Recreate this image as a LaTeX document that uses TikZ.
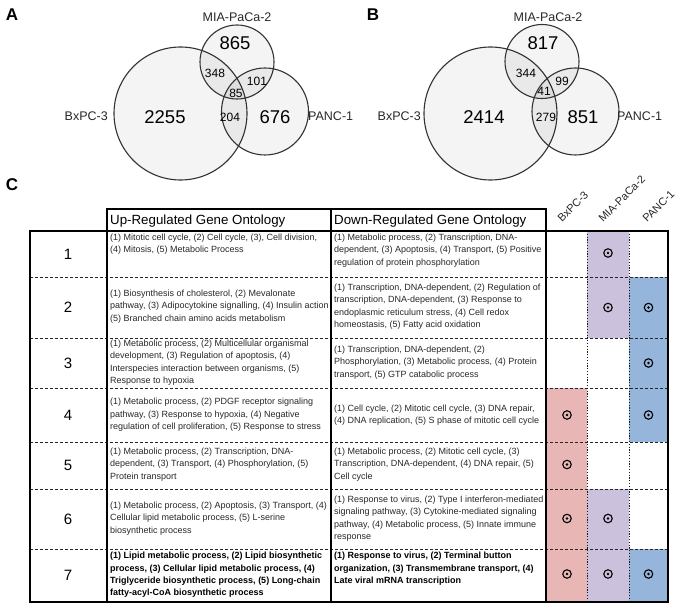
\documentclass[tikz,border=0pt]{standalone}
\usepackage{fontspec}
\setmainfont{Liberation Sans}
\definecolor{redc}{RGB}{233,182,182}
\definecolor{purc}{RGB}{204,193,221}
\definecolor{bluec}{RGB}{149,181,219}
\definecolor{inkc}{RGB}{40,40,40}
\tikzset{
  venncirc/.style={circle, draw=black!80, line width=1.1pt, fill=black, fill opacity=0.045, inner sep=0pt, outer sep=0pt},
  vlabel/.style={font=\fontsize{12.5}{12.5}\selectfont, inner sep=0pt, text=inkc},
  bignum/.style={font=\fontsize{18.5}{18.5}\selectfont, inner sep=0pt},
  smallnum/.style={font=\fontsize{12}{12}\selectfont, inner sep=0pt},
  panel/.style={font=\fontsize{17}{17}\selectfont\bfseries, inner sep=0pt},
  cell/.style={anchor=west, align=left, inner sep=0pt, font=\fontsize{9}{12.4}\selectfont, text=inkc},
  bcell/.style={cell, font=\fontsize{9}{12.4}\selectfont\bfseries, text=black},
  rownum/.style={font=\fontsize{15}{15}\selectfont, inner sep=0pt},
  hdr/.style={font=\fontsize{13.3}{13.3}\selectfont, anchor=west, inner sep=0pt},
  rothdr/.style={font=\fontsize{11}{11}\selectfont, anchor=base west, rotate=45, inner sep=0pt, text=inkc},
  thickline/.style={line width=2.8pt},
  dashrow/.style={line width=0.9pt, dash pattern=on 3pt off 2pt, black!85},
  dotcol/.style={line width=1pt, dash pattern=on 1.2pt off 1.6pt, black!90},
  dotsym/.style={circle, draw=black, line width=1.1pt, minimum size=8.5pt, inner sep=0pt,
    path picture={\fill (path picture bounding box.center) circle (1.3pt);}}
}
\begin{document}
\begin{tikzpicture}[x=1pt,y=-1pt]
\useasboundingbox (0,0) rectangle (686,609);
\fill[white] (0,0) rectangle (686,609);

% ---------- Panel A ----------
\node[panel] (pa) at (12,15) {A};
\node[venncirc, minimum size=133pt] (abx) at (180.5,113.5) {};
\node[venncirc, minimum size=74pt] (amia) at (237,62) {};
\node[venncirc, minimum size=87pt] (apanc) at (265,111.5) {};
\node[vlabel] (almia) at (237,17) {MIA-PaCa-2};
\node[vlabel, anchor=east] (albx) at (108,116) {BxPC-3};
\node[vlabel, anchor=west] (alpanc) at (308,116) {PANC-1};
\node[bignum] (a865) at (235,43) {865};
\node[bignum] (a2255) at (165,117) {2255};
\node[bignum] (a676) at (275,117) {676};
\node[smallnum] (a348) at (215,73) {348};
\node[smallnum] (a101) at (257,81) {101};
\node[smallnum] (a85) at (236,93) {85};
\node[smallnum] (a204) at (230,117) {204};

% ---------- Panel B ----------
\node[panel] (pb) at (373,15) {B};
\node[venncirc, minimum size=133pt] (bbx) at (490.5,113.5) {};
\node[venncirc, minimum size=74pt] (bmia) at (542,61.5) {};
\node[venncirc, minimum size=87pt] (bpanc) at (575.5,111.5) {};
\node[vlabel] (blmia) at (548,17) {MIA-PaCa-2};
\node[vlabel, anchor=east] (blbx) at (421,116) {BxPC-3};
\node[vlabel, anchor=west] (blpanc) at (617,116) {PANC-1};
\node[bignum] (b817) at (543,43) {817};
\node[bignum] (b2414) at (484,117) {2414};
\node[bignum] (b851) at (583,117) {851};
\node[smallnum] (b344) at (526,73) {344};
\node[smallnum] (b99) at (562,81) {99};
\node[smallnum] (b41) at (544,91) {41};
\node[smallnum] (b279) at (546,117) {279};

% ---------- Panel C ----------
\node[panel] (pc) at (12,185) {C};

% coloured cells
\fill[redc] (547,388) rectangle (587,602);
\fill[purc] (587,231) rectangle (629,338);
\fill[purc] (587,489) rectangle (629,602);
\fill[bluec] (629,277) rectangle (668,442);
\fill[bluec] (629,549) rectangle (668,602);

% row separators
\foreach \yy in {277,338,388,442,489,549}
  \draw[dashrow] (30,\yy) -- (668,\yy);
% dotted column separators
\draw[dotcol] (587,231) -- (587,602);
\draw[dotcol] (629,231) -- (629,602);

% thick frame
\draw[thickline] (107,209) rectangle (331,231);
\draw[thickline] (331,209) rectangle (546,231);
\draw[thickline] (30,231) rectangle (668,602);
\draw[thickline] (107,231) -- (107,602);
\draw[thickline] (331,231) -- (331,602);
\draw[thickline] (546,231) -- (546,602);

% headers
\node[hdr] (hup) at (110,221) {Up-Regulated Gene Ontology};
\node[hdr] (hdn) at (334,221) {Down-Regulated Gene Ontology};
\node[rothdr] (hbx) at (562,223) {BxPC-3};
\node[rothdr] (hmia) at (603,223) {MIA-PaCa-2};
\node[rothdr] (hpanc) at (647,223) {PANC-1};

% row numbers
\node[rownum] (n1) at (68,254) {1};
\node[rownum] (n2) at (68,307.5) {2};
\node[rownum] (n3) at (68,363) {3};
\node[rownum] (n4) at (68,415) {4};
\node[rownum] (n5) at (68,465.5) {5};
\node[rownum] (n6) at (68,519) {6};
\node[rownum] (n7) at (68,575.5) {7};

% up-regulated
\node[cell, anchor=north west] (u1) at (110,233.5) {(1) Mitotic cell cycle, (2) Cell cycle, (3), Cell division,\\(4) Mitosis, (5) Metabolic Process};
\node[cell] (u2) at (110,306.5) {(1) Biosynthesis of cholesterol, (2) Mevalonate\\pathway, (3) Adipocytokine signalling, (4) Insulin action\\(5) Branched chain amino acids metabolism};
\node[cell] (u3) at (110,362.5) {(1) Metabolic process, (2) Multicellular organismal\\development, (3) Regulation of apoptosis, (4)\\Interspecies interaction between organisms, (5)\\Response to hypoxia};
\node[cell] (u4) at (110,415) {(1) Metabolic process, (2) PDGF receptor signaling\\pathway, (3) Response to hypoxia, (4) Negative\\regulation of cell proliferation, (5) Response to stress};
\node[cell] (u5) at (110,464.5) {(1) Metabolic process, (2) Transcription, DNA-\\dependent, (3) Transport, (4) Phosphorylation, (5)\\Protein transport};
\node[cell] (u6) at (110,518.5) {(1) Metabolic process, (2) Apoptosis, (3) Transport, (4)\\Cellular lipid metabolic process, (5) L-serine\\biosynthetic process};
\node[bcell] (u7) at (110,575) {(1) Lipid metabolic process, (2) Lipid biosynthetic\\process, (3) Cellular lipid metabolic process, (4)\\Triglyceride biosynthetic process, (5) Long-chain\\fatty-acyl-CoA biosynthetic process};

% down-regulated
\node[cell, anchor=north west] (d1) at (334,233.5) {(1) Metabolic process, (2) Transcription, DNA-\\dependent, (3) Apoptosis, (4) Transport, (5) Positive\\regulation of protein phosphorylation};
\node[cell] (d2) at (334,306.5) {(1) Transcription, DNA-dependent, (2) Regulation of\\transcription, DNA-dependent, (3) Response to\\endoplasmic reticulum stress, (4) Cell redox\\homeostasis, (5) Fatty acid oxidation};
\node[cell] (d3) at (334,362.5) {(1) Transcription, DNA-dependent, (2)\\Phosphorylation, (3) Metabolic process, (4) Protein\\transport, (5) GTP catabolic process};
\node[cell] (d4) at (334,415) {(1) Cell cycle, (2) Mitotic cell cycle, (3) DNA repair,\\(4) DNA replication, (5) S phase of mitotic cell cycle};
\node[cell] (d5) at (334,464.5) {(1) Metabolic process, (2) Mitotic cell cycle, (3)\\Transcription, DNA-dependent, (4) DNA repair, (5)\\Cell cycle};
\node[cell] (d6) at (334,518.5) {(1) Response to virus, (2) Type I interferon-mediated\\signaling pathway, (3) Cytokine-mediated signaling\\pathway, (4) Metabolic process, (5) Innate immune\\response};
\node[bcell] (d7) at (334,569) {(1) Response to virus, (2) Terminal button\\organization, (3) Transmembrane transport, (4)\\Late viral mRNA transcription};

% dot symbols
\node[dotsym] (m1b) at (608,253) {};
\node[dotsym] (m2b) at (608,307.5) {};
\node[dotsym] (m2c) at (648.5,307.5) {};
\node[dotsym] (m3c) at (648.5,363) {};
\node[dotsym] (m4a) at (567,415) {};
\node[dotsym] (m4c) at (648.5,415) {};
\node[dotsym] (m5a) at (567,464.5) {};
\node[dotsym] (m6a) at (567,518.5) {};
\node[dotsym] (m6b) at (608,518.5) {};
\node[dotsym] (m7a) at (567,574) {};
\node[dotsym] (m7b) at (608,574) {};
\node[dotsym] (m7c) at (648.5,574) {};
\end{tikzpicture}
\end{document}
